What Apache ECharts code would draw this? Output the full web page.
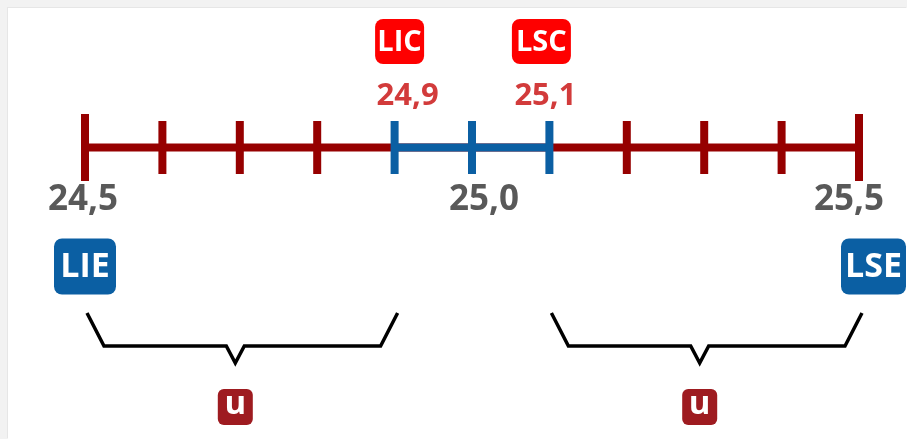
<!DOCTYPE html>
<html>
<head>
<meta charset="utf-8">
<script src="https://cdn.jsdelivr.net/npm/echarts@6/dist/echarts.min.js"></script>
<style>
  html, body { margin: 0; padding: 0; width: 907px; height: 439px; overflow: hidden; background: #f2f2f2; }
  #paper { position: absolute; left: 8px; top: 8px; right: 0; bottom: 0; background: #ffffff; box-shadow: -1px -1px 0 #e6e6e6; }
  #chart { position: absolute; left: 0; top: 0; width: 907px; height: 439px; }
</style>
</head>
<body>
<div id="paper"></div>
<div id="chart"></div>
<script>
// ---- data ----
const scaleRange = [24.5, 25.5];
const controlRange = [24.9, 25.1];
const tickValues = [24.5, 24.6, 24.7, 24.8, 24.9, 25.0, 25.1, 25.2, 25.3, 25.4, 25.5];
const scaleLabelValues = [24.5, 25.0, 25.5];
const scaleLabelTexts = ['24,5', '25,0', '25,5'];
const controlValues = [24.9, 25.1];
const controlTexts = ['24,9', '25,1'];
const controlBadges = ['LIC', 'LSC'];
const specValues = [24.5, 25.5];
const specBadges = ['LIE', 'LSE'];
const uIntervals = [[24.5, 24.9], [25.1, 25.5]];
const uBadges = ['u', 'u'];

// ---- styles / layout ----
const RED = '#960000', BLUE = '#0b5fa3';
const FONT = '"Open Sans", "Noto Sans", sans-serif';
const scaleLabelDx = [-2, 12, -10];
const controlLabelDx = [13, -4];
const controlBadgeLayout = [{dx: 5, w: 49}, {dx: -8, w: 59}];
const specBadgeLayout = [{dx: 0, w: 62}, {dx: 14.5, w: 65}];

function textSeries(values, texts, dxs, dy, color, size) {
  return {
    type: 'custom', silent: true, z: 5,
    data: values.map((v, i) => [v, i]),
    renderItem: function (params, api) {
      const p = api.coord([api.value(0), 0]);
      const i = api.value(1);
      return {
        type: 'text',
        style: {
          text: texts[i], x: p[0] + dxs[i], y: p[1] + dy,
          align: 'center', verticalAlign: 'middle',
          fill: color, fontSize: size, fontWeight: 'bold', fontFamily: FONT
        }
      };
    }
  };
}

function badgeSeries(values, texts, layout, cyOffset, h, color, size) {
  return {
    type: 'custom', silent: true, z: 5,
    data: values.map((v, i) => [v, i]),
    renderItem: function (params, api) {
      const p = api.coord([api.value(0), 0]);
      const i = api.value(1);
      const cx = p[0] + layout[i].dx, cy = p[1] + cyOffset, w = layout[i].w;
      return {
        type: 'group',
        children: [
          { type: 'rect', shape: { x: cx - w / 2, y: cy - h / 2, width: w, height: h, r: 8 }, style: { fill: color } },
          { type: 'text', style: { text: texts[i], x: cx, y: cy + 1, align: 'center', verticalAlign: 'middle',
              fill: '#ffffff', fontSize: size, fontWeight: 'bold', fontFamily: FONT } }
        ]
      };
    }
  };
}

const chart = echarts.init(document.getElementById('chart'), null, { renderer: 'canvas' });
chart.setOption({
  animation: false,
  backgroundColor: 'transparent',
  grid: { left: 85, right: 48, top: 0, bottom: 144 },
  xAxis: { type: 'value', min: scaleRange[0], max: scaleRange[1], interval: 0.1, show: false },
  yAxis: { type: 'value', min: -1, max: 1, show: false },
  series: [
    { type: 'line', silent: true, symbol: 'none', data: [[scaleRange[0], 0], [scaleRange[1], 0]],
      lineStyle: { color: RED, width: 8, cap: 'butt' }, z: 1 },
    { type: 'line', silent: true, symbol: 'none', data: [[controlRange[0], 0], [controlRange[1], 0]],
      lineStyle: { color: BLUE, width: 8, cap: 'butt' }, z: 2 },
    { type: 'scatter', silent: true, symbol: 'rect', z: 3,
      data: tickValues.map((v, i) => ({
        value: [v, 0],
        symbolSize: (i === 0 || i === tickValues.length - 1) ? [8, 67] : [8, 53],
        itemStyle: { opacity: 1, color: (v >= controlRange[0] - 1e-9 && v <= controlRange[1] + 1e-9) ? BLUE : RED }
      })) },
    textSeries(scaleLabelValues, scaleLabelTexts, scaleLabelDx, 53, '#595959', 35),
    textSeries(controlValues, controlTexts, controlLabelDx, -51, '#d23b3b', 31),
    badgeSeries(controlValues, controlBadges, controlBadgeLayout, -106, 45, '#fe0000', 29),
    badgeSeries(specValues, specBadges, specBadgeLayout, 119, 56, '#0b5fa3', 34),
    {
      type: 'custom', silent: true, z: 4,
      data: uIntervals.map((r, i) => [r[0], r[1], i]),
      renderItem: function (params, api) {
        const a = api.coord([api.value(0), 0]);
        const b = api.coord([api.value(1), 0]);
        const i = api.value(2);
        const base = a[1];
        const x0 = a[0] + 2, x1 = b[0] + 3;
        const top = base + 165.5, mid = base + 198.5, tip = base + 215.5;
        const tx = (x0 + x1) / 2 - 7;
        const by = base + 259.5;
        return {
          type: 'group',
          children: [
            { type: 'polyline',
              shape: { points: [[x0, top], [x0 + 17, mid], [tx - 9, mid], [tx, tip], [tx + 9, mid], [x1 - 17, mid], [x1, top]] },
              style: { stroke: '#000000', lineWidth: 3.5, fill: null, lineJoin: 'miter' } },
            { type: 'rect', shape: { x: tx - 17.5, y: by - 18, width: 35, height: 36, r: 6 }, style: { fill: '#9e1b20' } },
            { type: 'text', style: { text: uBadges[i], x: tx, y: by - 2, align: 'center', verticalAlign: 'middle',
                fill: '#ffffff', fontSize: 33, fontWeight: 'bold', fontFamily: FONT } }
          ]
        };
      }
    }
  ]
});
</script>
</body>
</html>
